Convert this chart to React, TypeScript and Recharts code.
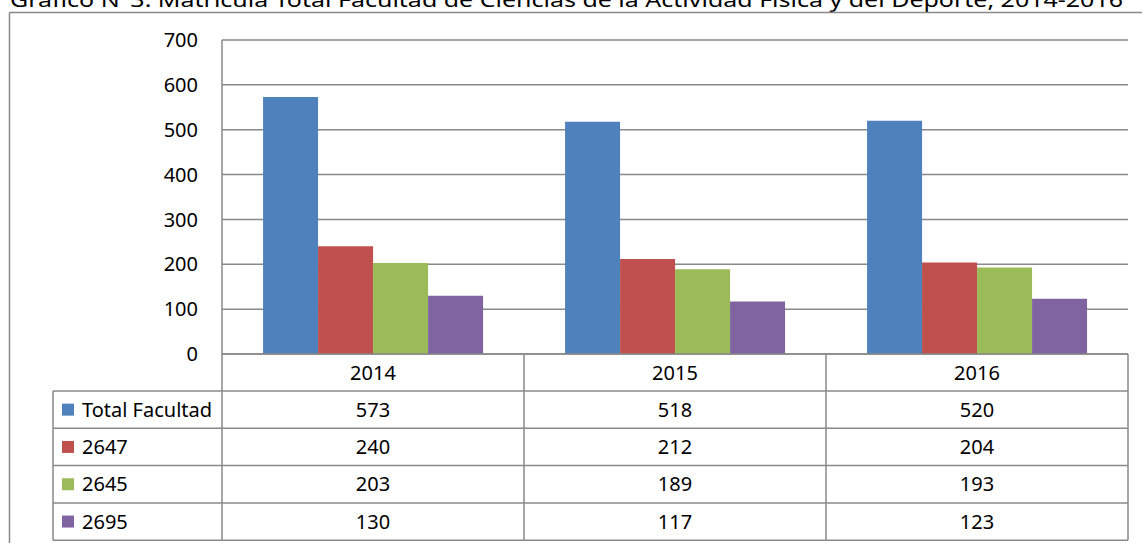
import React from 'react';
import { BarChart, Bar, XAxis, YAxis, CartesianGrid } from 'recharts';

const years = ['2014', '2015', '2016'];
const totalFacultad = [573, 518, 520];
const s2647 = [240, 212, 204];
const s2645 = [203, 189, 193];
const s2695 = [130, 117, 123];
const seriesNames = ['Total Facultad', '2647', '2645', '2695'];
const seriesKeys = ['total', 's2647', 's2645', 's2695'];
const seriesColors = ['#4F81BD', '#C0504D', '#9BBB59', '#8064A2'];
const seriesValues = [totalFacultad, s2647, s2645, s2695];
const yTicks = [0, 100, 200, 300, 400, 500, 600, 700];
const titleText =
  'Gráfico N°3: Matrícula Total Facultad de Ciencias de la Actividad Física y del Deporte, 2014-2016';

const data = years.map((y, i) => ({
  year: y,
  total: totalFacultad[i],
  s2647: s2647[i],
  s2645: s2645[i],
  s2695: s2695[i],
}));

const W = 1142;
const H = 543;
const PLOT_LEFT = 222;
const PLOT_RIGHT = 1128;
const PLOT_TOP = 40;
const PLOT_BOTTOM = 354;
const HEADER_H = 37;
const ROW_H = 37.3;
const TABLE_LEFT = 53;
const TABLE_BOTTOM = PLOT_BOTTOM + HEADER_H + ROW_H * seriesNames.length;
const GRID = '#898989';
const FONT = '"Noto Sans", sans-serif';
const FS = 20;

const TableTick = (props: any) => {
  const { x, payload, index } = props;
  const i = typeof index === 'number' ? index : payload.index;
  const bw = (PLOT_RIGHT - PLOT_LEFT) / years.length;
  return (
    <g>
      <text
        x={x}
        y={PLOT_BOTTOM + HEADER_H / 2}
        dy="0.35em"
        textAnchor="middle"
        fill="#000"
        fontSize={FS}
        fontFamily={FONT}
      >
        {payload.value}
      </text>
      {seriesValues.map((vals, r) => (
        <text
          key={r}
          x={x}
          y={PLOT_BOTTOM + HEADER_H + ROW_H * (r + 0.5)}
          dy="0.35em"
          textAnchor="middle"
          fill="#000"
          fontSize={FS}
          fontFamily={FONT}
        >
          {vals[i]}
        </text>
      ))}
      <line
        x1={x + bw / 2}
        x2={x + bw / 2}
        y1={PLOT_BOTTOM}
        y2={TABLE_BOTTOM}
        stroke={GRID}
        strokeWidth={1.5}
      />
    </g>
  );
};

export default function App() {
  return (
    <div
      style={{
        position: 'absolute',
        left: 0,
        top: 0,
        width: W,
        height: H,
        overflow: 'hidden',
        background: '#fff',
      }}
    >
      <BarChart
        width={W}
        height={H}
        data={data}
        margin={{ top: PLOT_TOP, right: W - PLOT_RIGHT, left: 0, bottom: 0 }}
        barGap={0}
        barCategoryGap="13.6%"
      >
        <CartesianGrid vertical={false} stroke={GRID} strokeWidth={1.5} />
        <YAxis
          domain={[0, 700]}
          ticks={yTicks}
          width={PLOT_LEFT}
          tickSize={0}
          tickMargin={24}
          tickLine={false}
          axisLine={{ stroke: GRID, strokeWidth: 1.5 }}
          tick={{ fill: '#000', fontSize: FS, fontFamily: FONT }}
        />
        <XAxis
          dataKey="year"
          height={H - PLOT_BOTTOM}
          interval={0}
          tickSize={0}
          tickLine={false}
          axisLine={{ stroke: GRID, strokeWidth: 1.5 }}
          tick={<TableTick />}
        />
        {seriesKeys.map((k, i) => (
          <Bar key={k} dataKey={k} name={seriesNames[i]} fill={seriesColors[i]} isAnimationActive={false} />
        ))}
      </BarChart>
      <svg
        width={W}
        height={H}
        style={{ position: 'absolute', left: 0, top: 0, pointerEvents: 'none' }}
      >
        <text
          x={10}
          y={7}
          fontSize={FS}
          fontFamily={FONT}
          fill="#000"
          textLength={1113}
          lengthAdjust="spacingAndGlyphs"
        >
          {titleText}
        </text>
        <line x1={9.5} x2={W} y1={12.5} y2={12.5} stroke={GRID} strokeWidth={1.5} />
        <line x1={9.5} x2={9.5} y1={12.5} y2={H} stroke={GRID} strokeWidth={1.5} />
        <line x1={PLOT_LEFT} x2={PLOT_LEFT} y1={PLOT_BOTTOM} y2={TABLE_BOTTOM} stroke={GRID} strokeWidth={1.5} />
        <line
          x1={TABLE_LEFT}
          x2={TABLE_LEFT}
          y1={PLOT_BOTTOM + HEADER_H}
          y2={TABLE_BOTTOM}
          stroke={GRID}
          strokeWidth={1.5}
        />
        {seriesNames.map((_, r) => (
          <line
            key={'h' + r}
            x1={TABLE_LEFT}
            x2={PLOT_RIGHT}
            y1={PLOT_BOTTOM + HEADER_H + ROW_H * r}
            y2={PLOT_BOTTOM + HEADER_H + ROW_H * r}
            stroke={GRID}
            strokeWidth={1.5}
          />
        ))}
        <line x1={TABLE_LEFT} x2={PLOT_RIGHT} y1={TABLE_BOTTOM} y2={TABLE_BOTTOM} stroke={GRID} strokeWidth={1.5} />
        {seriesNames.map((name, r) => {
          const cy = PLOT_BOTTOM + HEADER_H + ROW_H * (r + 0.5);
          return (
            <g key={'l' + r}>
              <rect x={62} y={cy - 6} width={12} height={12} fill={seriesColors[r]} />
              <text x={82} y={cy} dy="0.35em" fontSize={FS} fontFamily={FONT} fill="#000">
                {name}
              </text>
            </g>
          );
        })}
      </svg>
    </div>
  );
}
